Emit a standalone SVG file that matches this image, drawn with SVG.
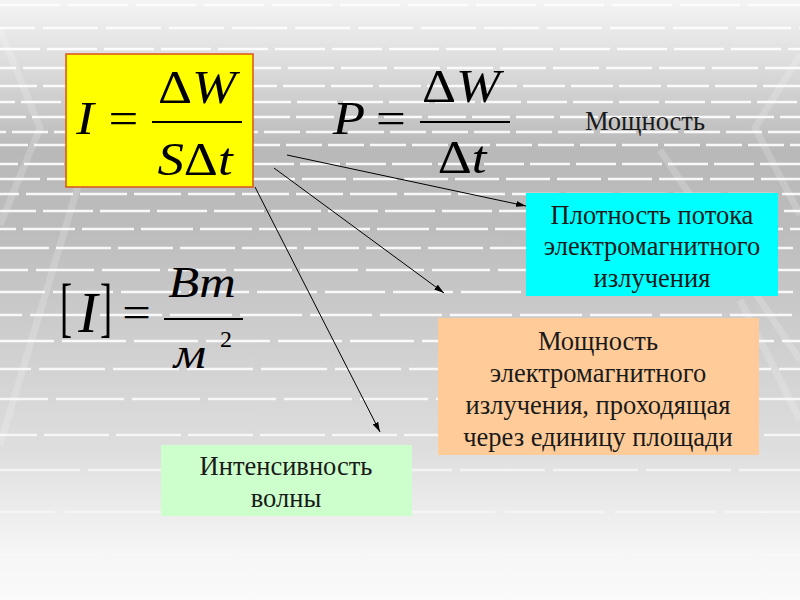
<svg xmlns="http://www.w3.org/2000/svg" width="800" height="600" viewBox="0 0 800 600">
  <defs>
    <linearGradient id="bg" x1="0" y1="0" x2="0" y2="1">
      <stop offset="0" stop-color="#f4f4f4"/>
      <stop offset="0.1" stop-color="#dedede"/>
      <stop offset="0.25" stop-color="#b9b9b9"/>
      <stop offset="0.38" stop-color="#bcbcbc"/>
      <stop offset="0.55" stop-color="#cdcdcd"/>
      <stop offset="0.75" stop-color="#dedede"/>
      <stop offset="0.92" stop-color="#f6f6f6"/>
      <stop offset="1" stop-color="#fafafa"/>
    </linearGradient>
    <marker id="arrow" viewBox="0 0 10 6" refX="10" refY="3" markerWidth="10" markerHeight="6" markerUnits="userSpaceOnUse" orient="auto">
      <path d="M0,0 L10,3 L0,6 z" fill="#000"/>
    </marker>
    <style>
      .grid line { stroke: #ffffff; stroke-width: 2.5; }
      .diag { stroke: #ffffff; stroke-width: 7; fill: none; opacity: 0.18; }
      .f { font-family: "Liberation Serif", "Times New Roman", serif; fill: #000; }
      .it { font-style: italic; }
      .fl { stroke: #000; stroke-width: 2; }
      .box-text { font-family: "Liberation Serif", "Times New Roman", serif; font-size: 26.5px; fill: #1a1a1a; text-anchor: middle; }
      .conn { stroke: #000; stroke-width: 1; fill: none; marker-end: url(#arrow); }
    </style>
  </defs>

  <!-- background -->
  <rect x="0" y="0" width="800" height="600" fill="url(#bg)"/>
  <g class="diag">
    <path d="M0,30 L40,128 L0,225"/>
    <path d="M78,186 L0,445"/>
    <path d="M800,55 L755,128 L800,215"/>
    <path d="M660,150 L800,360"/>
    <path d="M740,300 L800,420"/>
  </g>
  <g class="grid">
    <line x1="0" y1="5" x2="800" y2="5" stroke-dasharray="60 8" opacity="0.9"/>
    <line x1="0" y1="28" x2="800" y2="28" stroke-dasharray="55 8" stroke-dashoffset="20" opacity="0.9"/>
    <line x1="0" y1="49" x2="800" y2="49" stroke-dasharray="50 7" stroke-dashoffset="10" opacity="0.9"/>
    <line x1="0" y1="68" x2="800" y2="68" stroke-dasharray="46 7" stroke-dashoffset="30" opacity="0.9"/>
    <line x1="0" y1="86" x2="800" y2="86" stroke-dasharray="42 6" stroke-dashoffset="5" opacity="0.9"/>
    <line x1="0" y1="102" x2="800" y2="102" stroke-dasharray="40 6" stroke-dashoffset="25" opacity="0.9"/>
    <line x1="0" y1="117" x2="800" y2="117" stroke-dasharray="38 6" stroke-dashoffset="12" opacity="0.9"/>
    <line x1="0" y1="132" x2="800" y2="132" stroke-dasharray="36 6" stroke-dashoffset="30" opacity="0.9"/>
    <line x1="0" y1="145" x2="800" y2="145" stroke-dasharray="36 6" stroke-dashoffset="8" opacity="0.9"/>
    <line x1="0" y1="164" x2="800" y2="164" stroke-dasharray="40 6" stroke-dashoffset="22" opacity="0.9"/>
    <line x1="0" y1="179" x2="800" y2="179" stroke-dasharray="44 7" stroke-dashoffset="4" opacity="0.9"/>
    <line x1="0" y1="194" x2="800" y2="194" stroke-dasharray="47 7" stroke-dashoffset="28" opacity="0.9"/>
    <line x1="0" y1="211" x2="800" y2="211" stroke-dasharray="50 7" stroke-dashoffset="14" opacity="0.9"/>
    <line x1="0" y1="229" x2="800" y2="229" stroke-dasharray="52 7" stroke-dashoffset="36" opacity="0.9"/>
    <line x1="0" y1="248" x2="800" y2="248" stroke-dasharray="55 7" stroke-dashoffset="6" opacity="0.9"/>
    <line x1="0" y1="270" x2="800" y2="270" stroke-dasharray="58 8" stroke-dashoffset="30" opacity="0.9"/>
    <line x1="0" y1="292" x2="800" y2="292" stroke-dasharray="60 8" stroke-dashoffset="15" opacity="0.9"/>
    <line x1="0" y1="315" x2="800" y2="315" stroke-dasharray="62 8" stroke-dashoffset="40" opacity="0.9"/>
    <line x1="0" y1="341" x2="800" y2="341" stroke-dasharray="64 8" stroke-dashoffset="10" opacity="0.9"/>
    <line x1="0" y1="369" x2="800" y2="369" stroke-dasharray="66 8" stroke-dashoffset="35" opacity="0.85"/>
    <line x1="0" y1="399" x2="800" y2="399" stroke-dasharray="68 8" stroke-dashoffset="20" opacity="0.8"/>
    <line x1="0" y1="435" x2="800" y2="435" stroke-dasharray="65 7" stroke-dashoffset="28" opacity="0.75"/>
    <line x1="0" y1="470" x2="800" y2="470" stroke-dasharray="85 8" stroke-dashoffset="5" opacity="0.6"/>
    <line x1="0" y1="512" x2="800" y2="512" stroke-dasharray="100 10" stroke-dashoffset="45" opacity="0.45"/>
    <line x1="0" y1="555" x2="800" y2="555" stroke-dasharray="120 10" stroke-dashoffset="20" opacity="0.25"/>
  </g>

  <!-- connectors -->
  <g id="connectors">
    <line class="conn" x1="287" y1="155" x2="526" y2="206"/>
    <line class="conn" x1="274" y1="168" x2="444" y2="293"/>
    <line class="conn" x1="255" y1="187" x2="380" y2="432"/>
  </g>

  <!-- yellow formula box: I = dW / (S dt) -->
  <g id="formula-intensity">
    <rect x="66" y="54" width="187" height="133" fill="#ffff00" stroke="#d9531e" stroke-width="1.5"/>
    <text class="f it" font-size="46" text-anchor="middle" transform="translate(85,134) scale(1.15,1)">I</text>
    <text class="f" font-size="46" text-anchor="middle" transform="translate(123.5,134) scale(1.15,1)">=</text>
    <line class="fl" x1="152" y1="122" x2="242" y2="122"/>
    <text class="f" font-size="46" text-anchor="middle" transform="translate(197,103) scale(1.15,1)">Δ<tspan class="it">W</tspan></text>
    <text class="f" font-size="46" text-anchor="middle" transform="translate(195,175) scale(1.15,1)"><tspan class="it">S</tspan>Δ<tspan class="it">t</tspan></text>
  </g>

  <!-- P = dW / dt -->
  <g id="formula-power">
    <text class="f it" font-size="46" text-anchor="middle" transform="translate(349,134) scale(1.15,1)">P</text>
    <text class="f" font-size="46" text-anchor="middle" transform="translate(391,134) scale(1.15,1)">=</text>
    <line class="fl" x1="420" y1="122" x2="510" y2="122"/>
    <text class="f" font-size="46" text-anchor="middle" transform="translate(461,102) scale(1.15,1)">Δ<tspan class="it">W</tspan></text>
    <text class="f" font-size="46" text-anchor="middle" transform="translate(462,173) scale(1.15,1)">Δ<tspan class="it">t</tspan></text>
  </g>

  <g id="label-power">
    <text class="box-text" x="645" y="130">Мощность</text>
  </g>

  <!-- units formula -->
  <g id="formula-units">
    <text class="f" font-size="66" text-anchor="middle" transform="translate(66,329) scale(0.55,1)">[</text>
    <text class="f it" font-size="58" text-anchor="middle" x="88" y="332">I</text>
    <text class="f" font-size="66" text-anchor="middle" transform="translate(106,329) scale(0.55,1)">]</text>
    <text class="f" font-size="44" text-anchor="middle" transform="translate(136.5,327) scale(1.15,1)">=</text>
    <text class="f it" font-size="44" text-anchor="middle" transform="translate(202,297) scale(1.15,1)">Bm</text>
    <line class="fl" x1="164" y1="319" x2="243" y2="319"/>
    <text class="f it" font-size="44" text-anchor="middle" transform="translate(190,368) scale(1.15,1)">м</text>
    <text class="f" font-size="24" text-anchor="middle" x="226" y="347">2</text>
  </g>

  <g id="box-density">
    <rect x="526" y="193" width="252" height="103" fill="#00ffff"/>
    <text class="box-text" x="652" y="224">Плотность потока</text>
    <text class="box-text" x="652" y="255">электромагнитного</text>
    <text class="box-text" x="652" y="287">излучения</text>
  </g>

  <g id="box-power-definition">
    <rect x="438" y="318" width="321" height="137" fill="#ffcc99"/>
    <text class="box-text" x="598" y="350">Мощность</text>
    <text class="box-text" x="598" y="382">электромагнитного</text>
    <text class="box-text" x="598" y="414">излучения, проходящая</text>
    <text class="box-text" x="598" y="446">через единицу площади</text>
  </g>

  <g id="box-wave-intensity">
    <rect x="161" y="445" width="251" height="71" fill="#ccffcc"/>
    <text class="box-text" x="286" y="475">Интенсивность</text>
    <text class="box-text" x="286" y="507">волны</text>
  </g>
</svg>
